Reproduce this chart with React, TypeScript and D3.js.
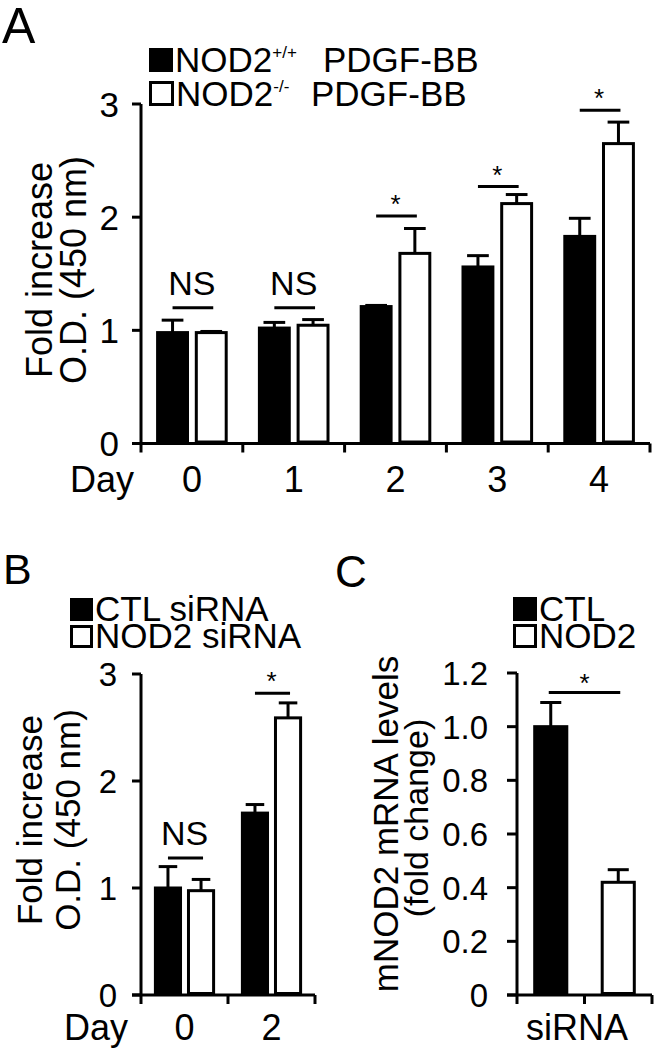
import React from 'react';
import * as d3 from 'd3';

const FONT = "'Liberation Sans', Arial, Helvetica, sans-serif";

// ---------- Panel A data ----------
const daysA = ['0', '1', '2', '3', '4'];
const seriesKeys = ['a', 'b'];
const wtA = [0.98, 1.02, 1.21, 1.56, 1.83];
const wtErrA = [0.11, 0.05, 0.01, 0.10, 0.16];
const koA = [0.98, 1.045, 1.68, 2.12, 2.65];
const koErrA = [0.01, 0.05, 0.22, 0.08, 0.19];
const sigA = ['NS', 'NS', '*', '*', '*'];
const sigLevelA = [1.2, 1.2, 2.01, 2.27, 2.945];
const yTicksA = [0, 1, 2, 3];

// ---------- Panel B data ----------
const daysB = ['0', '2'];
const ctlB = [1.0, 1.7];
const ctlErrB = [0.2, 0.08];
const nodB = [0.975, 2.59];
const nodErrB = [0.105, 0.14];
const sigB = ['NS', '*'];
const sigLevelB = [1.28, 2.82];
const yTicksB = [0, 1, 2, 3];

// ---------- Panel C data ----------
const groupsC = ['CTL', 'NOD2'];
const valuesC = [1.0, 0.42];
const errC = [0.09, 0.047];
const sigLevelC = 1.127;
const yTicksC = [0, 0.2, 0.4, 0.6, 0.8, 1.0, 1.2];

const SW = 3;

type GroupedProps = {
  groups: string[];
  a: number[];
  aErr: number[];
  b: number[];
  bErr: number[];
  sig: string[];
  sigLevel: number[];
  yTicks: number[];
  xRange: [number, number];
  yRange: [number, number];
  tickFont: number;
  tickEnd: number;
  xLabelBaseline: number;
  dayEnd: number;
};

function GroupedPanel(p: GroupedProps) {
  const yMax = p.yTicks[p.yTicks.length - 1];
  const y = d3.scaleLinear().domain([0, yMax]).range(p.yRange);
  const x = d3.scaleBand<string>().domain(p.groups).range(p.xRange).paddingInner(0).paddingOuter(0);
  const xs = d3.scaleBand<string>().domain(seriesKeys).range([0, x.bandwidth()]).paddingInner(0.15).paddingOuter(0.39);
  const bw = xs.bandwidth();
  const cap = bw * 0.66;
  const ax = p.xRange[0];
  const y0 = y(0);
  const boundaries = [...p.groups.map((g) => x(g) as number), p.xRange[1]];
  const bars: { key: string; g: string; v: number; e: number; s: string }[] = [];
  p.groups.forEach((g, i) => {
    bars.push({ key: g + 'a', g, v: p.a[i], e: p.aErr[i], s: 'a' });
    bars.push({ key: g + 'b', g, v: p.b[i], e: p.bErr[i], s: 'b' });
  });
  return (
    <g>
      {bars.map((d) => {
        const cx = (x(d.g) as number) + (xs(d.s) as number) + bw / 2;
        return (
          <g key={'e' + d.key} stroke="#000" strokeWidth={SW}>
            <line x1={cx} x2={cx} y1={y(d.v)} y2={y(d.v + d.e)} />
            <line x1={cx - cap / 2} x2={cx + cap / 2} y1={y(d.v + d.e)} y2={y(d.v + d.e)} />
          </g>
        );
      })}
      {bars.map((d) => {
        const bx = (x(d.g) as number) + (xs(d.s) as number);
        return (
          <rect
            key={'r' + d.key}
            x={bx + SW / 2}
            y={y(d.v)}
            width={bw - SW}
            height={y0 - y(d.v) - SW / 2}
            fill={d.s === 'a' ? '#000' : '#fff'}
            stroke="#000"
            strokeWidth={SW}
          />
        );
      })}
      <line x1={ax} x2={ax} y1={y(yMax)} y2={y0} stroke="#000" strokeWidth={SW} />
      <line x1={ax - 9} x2={p.xRange[1]} y1={y0} y2={y0} stroke="#000" strokeWidth={SW} />
      {p.yTicks.map((t) => (
        <g key={'yt' + t}>
          <line x1={ax - 9} x2={ax} y1={y(t)} y2={y(t)} stroke="#000" strokeWidth={SW} />
          <text x={p.tickEnd} y={y(t)} dy="0.36em" textAnchor="end" fontSize={p.tickFont} fontFamily={FONT}>
            {String(t)}
          </text>
        </g>
      ))}
      {boundaries.map((bx, i) => (
        <line key={'xt' + i} x1={bx} x2={bx} y1={y0} y2={y0 + 9} stroke="#000" strokeWidth={SW} />
      ))}
      {p.groups.map((g) => (
        <text key={'xl' + g} x={(x(g) as number) + x.bandwidth() / 2} y={p.xLabelBaseline} textAnchor="middle" fontSize={36} fontFamily={FONT}>
          {g}
        </text>
      ))}
      <text x={p.dayEnd} y={p.xLabelBaseline} textAnchor="end" fontSize={36} fontFamily={FONT}>Day</text>
      {p.groups.map((g, i) => {
        const c1 = (x(g) as number) + (xs('a') as number) + bw / 2;
        const c2 = (x(g) as number) + (xs('b') as number) + bw / 2;
        const ly = y(p.sigLevel[i]);
        const isNS = p.sig[i] === 'NS';
        return (
          <g key={'s' + g}>
            <line x1={c1} x2={c2 + 2} y1={ly} y2={ly} stroke="#000" strokeWidth={SW} />
            <text
              x={(c1 + c2) / 2}
              y={isNS ? ly - 13 : ly - 3}
              textAnchor="middle"
              fontSize={isNS ? 34 : 26}
              fontFamily={FONT}
            >
              {p.sig[i]}
            </text>
          </g>
        );
      })}
    </g>
  );
}

function PanelC() {
  const y = d3.scaleLinear().domain([0, 1.2]).range([995, 673]);
  const x = d3.scaleBand<string>().domain(groupsC).range([517, 652]).paddingInner(0.48).paddingOuter(0.24);
  const bw = x.bandwidth();
  const step = x.step();
  const cap = bw * 0.6;
  const y0 = y(0);
  const ax = 517;
  const ticksX = [517, 517 + step, 652];
  const centers = groupsC.map((g) => (x(g) as number) + bw / 2);
  return (
    <g>
      {groupsC.map((g, i) => {
        const cx = centers[i];
        return (
          <g key={'e' + g} stroke="#000" strokeWidth={SW}>
            <line x1={cx} x2={cx} y1={y(valuesC[i])} y2={y(valuesC[i] + errC[i])} />
            <line x1={cx - cap / 2} x2={cx + cap / 2} y1={y(valuesC[i] + errC[i])} y2={y(valuesC[i] + errC[i])} />
          </g>
        );
      })}
      {groupsC.map((g, i) => (
        <rect
          key={'r' + g}
          x={(x(g) as number) + SW / 2}
          y={y(valuesC[i])}
          width={bw - SW}
          height={y0 - y(valuesC[i]) - SW / 2}
          fill={i === 0 ? '#000' : '#fff'}
          stroke="#000"
          strokeWidth={SW}
        />
      ))}
      <line x1={ax} x2={ax} y1={y(1.2)} y2={y0} stroke="#000" strokeWidth={SW} />
      <line x1={ax - 10} x2={652} y1={y0} y2={y0} stroke="#000" strokeWidth={SW} />
      {yTicksC.map((t) => (
        <g key={'yt' + t}>
          <line x1={ax - 10} x2={ax} y1={y(t)} y2={y(t)} stroke="#000" strokeWidth={SW} />
          <text x={488} y={y(t)} dy="0.36em" textAnchor="end" fontSize={33} fontFamily={FONT}>
            {t === 0 ? '0' : d3.format('.1f')(t)}
          </text>
        </g>
      ))}
      {ticksX.map((tx, i) => (
        <line key={'xt' + i} x1={tx} x2={tx} y1={y0} y2={y0 + 9} stroke="#000" strokeWidth={SW} />
      ))}
      <text x={577} y={1040} textAnchor="middle" fontSize={36} fontFamily={FONT}>siRNA</text>
      <line x1={centers[0] - 2} x2={centers[1] + 2} y1={y(sigLevelC)} y2={y(sigLevelC)} stroke="#000" strokeWidth={SW} />
      <text x={(centers[0] + centers[1]) / 2} y={y(sigLevelC) - 1} textAnchor="middle" fontSize={26} fontFamily={FONT}>*</text>
    </g>
  );
}

function LegendRow({ x, y, filled, size, fontSize = 34, children }: { x: number; y: number; filled: boolean; size: number; fontSize?: number; children: React.ReactNode }) {
  return (
    <g>
      <rect x={x + 1.5} y={y - size + 1.5} width={size - 3} height={size - 3} fill={filled ? '#000' : '#fff'} stroke="#000" strokeWidth={SW} />
      <text x={x + size + 2} y={y} fontFamily={FONT} fontSize={fontSize}>
        {children}
      </text>
    </g>
  );
}

export default function App() {
  return (
    <svg
      width={655}
      height={1050}
      viewBox="0 0 655 1050"
      style={{ position: 'absolute', left: 0, top: 0, background: '#fff' }}
    >
      <rect x={0} y={0} width={655} height={1050} fill="#fff" />
      <text x={2} y={43} fontFamily={FONT} fontSize={50}>A</text>
      <text x={3} y={584} fontFamily={FONT} fontSize={43}>B</text>
      <text x={335} y={587} fontFamily={FONT} fontSize={44}>C</text>

      {/* Panel A legend */}
      <LegendRow x={149} y={72} filled size={24} fontSize={35}>
        <tspan>NOD2</tspan>
        <tspan fontSize={17} dy={-14}>+/+</tspan>
        <tspan x={323} dy={14}>PDGF-BB</tspan>
      </LegendRow>
      <LegendRow x={149} y={106} filled={false} size={25} fontSize={35}>
        <tspan>NOD2</tspan>
        <tspan fontSize={17} dy={-14}>-/-</tspan>
        <tspan x={311} dy={14}>PDGF-BB</tspan>
      </LegendRow>

      <g transform="translate(52,270) rotate(-90)">
        <text textAnchor="middle" fontFamily={FONT} fontSize={36}>Fold increase</text>
      </g>
      <g transform="translate(86,270) rotate(-90)">
        <text textAnchor="middle" fontFamily={FONT} fontSize={36}>O.D. (450 nm)</text>
      </g>

      <GroupedPanel
        groups={daysA}
        a={wtA}
        aErr={wtErrA}
        b={koA}
        bErr={koErrA}
        sig={sigA}
        sigLevel={sigLevelA}
        yTicks={yTicksA}
        xRange={[141, 650]}
        yRange={[443.5, 104]}
        tickFont={35}
        tickEnd={119}
        xLabelBaseline={492}
        dayEnd={134}
      />

      {/* Panel B */}
      <LegendRow x={70} y={621} filled size={23} fontSize={35}>CTL siRNA</LegendRow>
      <LegendRow x={70} y={648} filled={false} size={23} fontSize={35}>NOD2 siRNA</LegendRow>
      <g transform="translate(42,820) rotate(-90)">
        <text textAnchor="middle" fontFamily={FONT} fontSize={35}>Fold increase</text>
      </g>
      <g transform="translate(80,820) rotate(-90)">
        <text textAnchor="middle" fontFamily={FONT} fontSize={35}>O.D. (450 nm)</text>
      </g>
      <GroupedPanel
        groups={daysB}
        a={ctlB}
        aErr={ctlErrB}
        b={nodB}
        bErr={nodErrB}
        sig={sigB}
        sigLevel={sigLevelB}
        yTicks={yTicksB}
        xRange={[141, 315]}
        yRange={[995, 674]}
        tickFont={33}
        tickEnd={117}
        xLabelBaseline={1040}
        dayEnd={128}
      />

      {/* Panel C */}
      <LegendRow x={513} y={621} filled size={24} fontSize={35}>CTL</LegendRow>
      <LegendRow x={513} y={648} filled={false} size={24} fontSize={35}>NOD2</LegendRow>
      <g transform="translate(398,824) rotate(-90)">
        <text textAnchor="middle" fontFamily={FONT} fontSize={35}>mNOD2 mRNA levels</text>
      </g>
      <g transform="translate(428,818) rotate(-90)">
        <text textAnchor="middle" fontFamily={FONT} fontSize={34}>(fold change)</text>
      </g>
      <PanelC />
    </svg>
  );
}
